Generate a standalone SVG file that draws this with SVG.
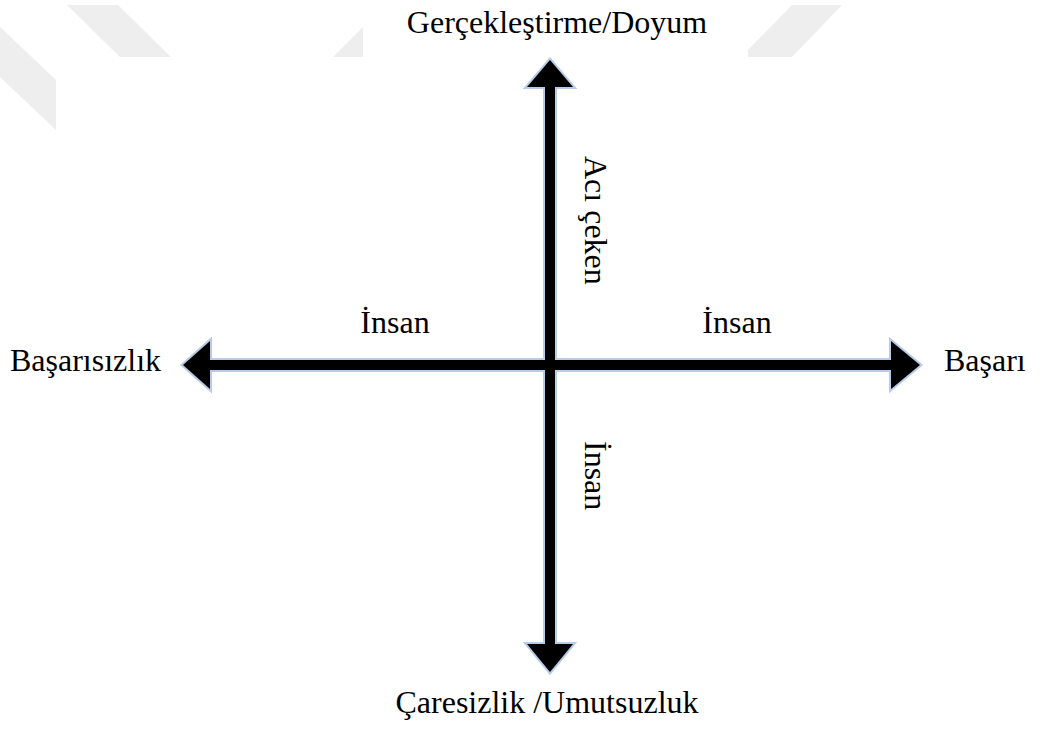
<svg xmlns="http://www.w3.org/2000/svg" width="1046" height="729" viewBox="0 0 1046 729">
  <style>
    .lbl { font-family: "Liberation Serif", "Times New Roman", serif; font-size: 32px; fill: #000; }
    .wm { fill: #eeeeee; }
    .outline { fill: none; stroke: #b8cbe8; stroke-width: 4; stroke-linejoin: miter; }
    .body { fill: #000; stroke: none; }
  </style>
  <defs>
    <path id="vArrow" d="M550,60 L573,87 L555,87 L555,644 L573,644 L550,672 L527,644 L545,644 L545,87 L527,87 Z"/>
    <path id="hArrow" d="M183,365 L210,341 L210,360 L891,360 L891,341 L920,365 L891,389 L891,370 L210,370 L210,389 Z"/>
  </defs>
  <rect width="1046" height="729" fill="#ffffff"/>
  <g id="watermark">
    <polygon class="wm" points="0,27 56,80 56,130 0,77"/>
    <polygon class="wm" points="67,5 118,5 171,57 120,57"/>
    <polygon class="wm" points="333,57 363,27 363,57"/>
    <polygon class="wm" points="792,5 842,5 792,57 748,57 748,50"/>
  </g>
  <g id="connectors">
    <use href="#vArrow" class="outline"/>
    <use href="#hArrow" class="outline"/>
    <use href="#vArrow" class="body"/>
    <use href="#hArrow" class="body"/>
  </g>
  <g id="node-top"><text class="lbl" x="557" y="33" text-anchor="middle">Gerçekleştirme/Doyum</text></g>
  <g id="node-bottom"><text class="lbl" x="547" y="713" text-anchor="middle">Çaresizlik /Umutsuzluk</text></g>
  <g id="node-left"><text class="lbl" x="10" y="371">Başarısızlık</text></g>
  <g id="node-right"><text class="lbl" x="944" y="371">Başarı</text></g>
  <g id="label-left-insan"><text class="lbl" x="395" y="333" text-anchor="middle">İnsan</text></g>
  <g id="label-right-insan"><text class="lbl" x="737" y="333" text-anchor="middle">İnsan</text></g>
  <g id="label-aci-ceken"><text class="lbl" transform="translate(585,156) rotate(90)">Acı çeken</text></g>
  <g id="label-bottom-insan"><text class="lbl" transform="translate(585,441) rotate(90)">İnsan</text></g>
</svg>
